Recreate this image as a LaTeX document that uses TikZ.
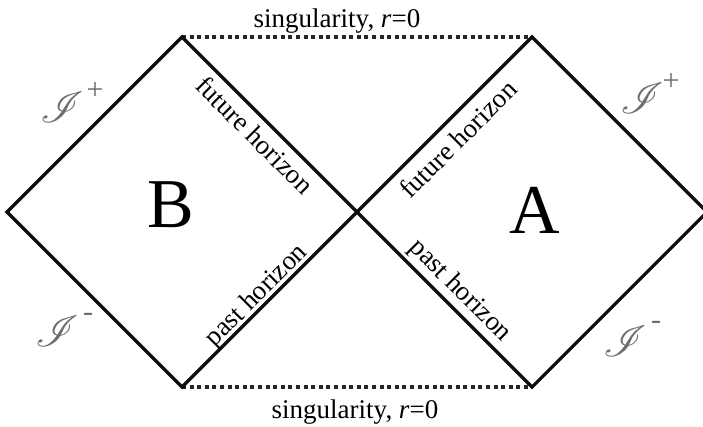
\documentclass[tikz,border=0pt]{standalone}
\usepackage{fontspec}
\setmainfont{Liberation Serif}
\usepackage{mathrsfs}
\usepackage{tikz}
\usetikzlibrary{positioning}
\definecolor{scrigray}{RGB}{110,110,110}
\newcommand{\scri}{\scalebox{1.75}{$\mathscr{I}$}}

\begin{document}
\begin{tikzpicture}[x=1pt,y=-1pt,
    e/.style={line width=3.2pt,line join=miter,black!95},
    sing/.style={line width=3.2pt,dash pattern=on 4pt off 3.6pt,black!85},
    t/.style={font=\fontsize{27}{30}\selectfont,inner sep=0pt},
    big/.style={font=\fontsize{70}{72}\selectfont,inner sep=0pt,anchor=base},
    sc/.style={font=\fontsize{27}{30}\selectfont,text=scrigray,inner sep=0pt},
    sup/.style={font=\fontsize{30}{32}\selectfont,text=scrigray,inner sep=0pt}]
    \useasboundingbox (0,0) rectangle (703,426);
    % corners of the two regions
    \coordinate (L) at (7,212);  \coordinate (bt) at (182,37);
    \coordinate (C) at (357,212); \coordinate (bb) at (182,387);
    \coordinate (at) at (532,37); \coordinate (R) at (707,212);
    \coordinate (ab) at (532,387);
    \draw[sing](bt)--(at);\draw[sing](bb)--(ab);
    \draw[e](L)--(bt)--(C)--(bb)--cycle;
    \draw[e](C)--(at)--(R)--(ab)--cycle;
    \node[t,anchor=base] (stop) at (337,27) {singularity, \textit{r}=0};
    \node[t,anchor=base] (sbot) at (355,418) {singularity, \textit{r}=0};
    \node[t,rotate=-45] (fhb) at (255,135) {future horizon};
    \node[t,rotate=45] (fha) at (458,139) {future horizon};
    \node[t,rotate=45] (phb) at (257,296) {past horizon};
    \node[t,rotate=-45] (pha) at (460,291) {past horizon};
    \node[big] (B) at (171,227) {B};
    \node[big] (A) at (535,233) {A};
    % scri labels
    \node[sc] (sbp) at (62,107) {\scri};
    \node[sup] (sbpx) at (95,91) {+};
    \node[sc] (sbm) at (57,331) {\scri};
    \node[sup] (sbmx) at (88,317) {-};
    \node[sc] (sap) at (642,98) {\scri};
    \node[sup] (sapx) at (671,82) {+};
    \node[sc] (sam) at (625,341) {\scri};
    \node[sup] (samx) at (656,325) {-};
  \end{tikzpicture}
\end{document}
